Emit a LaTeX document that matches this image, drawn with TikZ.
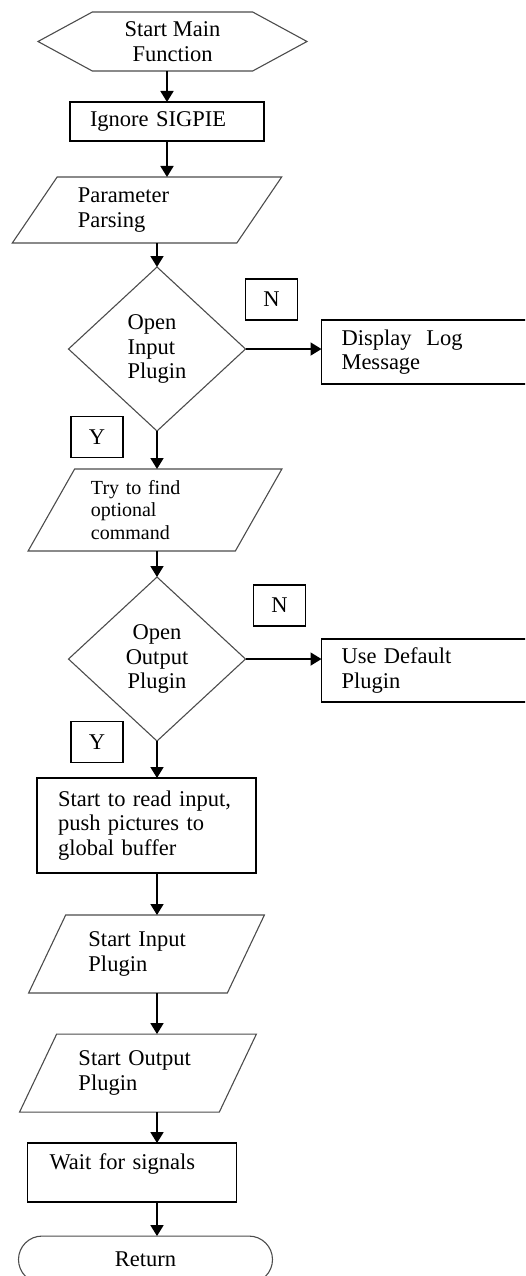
\documentclass[tikz,border=0pt]{standalone}
\usepackage{fontspec}
\setmainfont{Liberation Serif}
\usetikzlibrary{positioning}
\usetikzlibrary{arrows.meta}
\usetikzlibrary{shapes.geometric}
\usetikzlibrary{shapes.symbols}
\usetikzlibrary{shapes.misc}

\begin{document}
\begin{tikzpicture}[x=1pt,y=-1pt,>={Triangle[length=11pt,width=13pt]},
font=\fontsize{22.5}{24.5}\selectfont,inner sep=0pt,outer sep=0pt]
\tikzstyle{termbox}=[signal,signal to=west and east,signal pointer angle=57,
  draw=black!70,line width=1.1pt,minimum width=269pt,minimum height=59pt,align=center]
\tikzstyle{procbox}=[rectangle,draw,line width=1.2pt,align=left]
\tikzstyle{iobox}=[trapezium,trapezium stretches=true,draw=black!70,line width=1.1pt,align=left]
\tikzstyle{decbox}=[diamond,draw=black!70,line width=1.1pt,minimum width=177pt,minimum height=164pt]
\tikzstyle{tagbox}=[rectangle,draw,line width=1.2pt,minimum width=52pt,minimum height=41pt]
\tikzstyle{endbox}=[rounded rectangle,draw=black!70,line width=1.1pt,minimum width=254pt,minimum height=47pt]
\tikzstyle{flowline}=[->,line width=1.8pt]

\useasboundingbox (0,0) rectangle (525,1276);
\clip (0,0) rectangle (525,1276);

\node[termbox] (start) at (172.5,41.5) {Start Main\\Function};
\node[procbox,text width=154pt,minimum width=194pt,minimum height=39pt] (ign)
  [below=31pt of start,xshift=-5.5pt] {Ignore SIGPIE};
\node[iobox,trapezium left angle=52,trapezium right angle=128,minimum width=270pt,
  minimum height=66pt,text width=138pt] (parse) [below=36pt of ign,xshift=-20pt] {Parameter\\Parsing};

\node[decbox,align=left] (inplug) [below=24pt of parse,xshift=10pt] {Open\\Input\\Plugin};
\node[procbox,text width=175pt,minimum width=215pt,minimum height=64pt] (logmsg)
  [right=76pt of inplug,yshift=-3pt] {Display~~Log\\Message};
\node[tagbox] (n1) [above right=29pt and 0pt of inplug.east] {N};
\node[tagbox] (y1) [left=34pt of inplug.south,yshift=-6pt] {Y};

\node[iobox,trapezium left angle=58,trapezium right angle=122,minimum width=254pt,
  minimum height=82pt,text width=128pt,font=\fontsize{20}{22.5}\selectfont] (findcmd)
  [below=38pt of inplug,xshift=-2pt] {Try to find\\optional\\command};

\node[decbox,align=center] (outplug) [below=26pt of findcmd,xshift=2pt] {Open\\Output\\Plugin};
\node[procbox,text width=175pt,minimum width=215pt,minimum height=63pt] (defplug)
  [right=76pt of outplug,yshift=-11.5pt] {Use Default\\Plugin};
\node[tagbox] (n2) [above right=33pt and 8pt of outplug.east] {N};
\node[tagbox] (y2) [left=34pt of outplug.south,yshift=-1pt] {Y};

\node[procbox,text width=177pt,minimum width=219pt,minimum height=95pt] (readin)
  [below=37pt of outplug,xshift=-10.5pt] {Start to read input,\\push pictures to\\global buffer};
\node[iobox,trapezium left angle=59,trapezium right angle=121,minimum width=236pt,
  minimum height=78pt,text width=116pt] (startin) [below=42pt of readin] {Start Input\\Plugin};
\node[iobox,trapezium left angle=58.5,trapezium right angle=121.5,minimum width=237pt,
  minimum height=78pt,text width=119pt] (startout) [below=41pt of startin,xshift=-8.5pt] {Start Output\\Plugin};
\node[procbox,text width=165pt,minimum width=209pt,minimum height=59pt,text depth=22pt] (waitsig)
  [below=31pt of startout,xshift=-6pt] {Wait for signals};
\node[endbox] (ret) [below=34pt of waitsig,xshift=13.5pt] {Return};

% connectors
\draw[flowline] (start.south -| ign.north) -- (ign.north);
\draw[flowline] (ign.south) -- (ign.south |- parse.north);
\draw[flowline] (parse.south -| inplug.north) -- (inplug.north);
\draw[flowline] (inplug.east) -- (inplug.east -| logmsg.west);
\draw[flowline] (inplug.south) -- (inplug.south |- findcmd.north);
\draw[flowline] (findcmd.south -| outplug.north) -- (outplug.north);
\draw[flowline] (outplug.east) -- (outplug.east -| defplug.west);
\draw[flowline] (outplug.south) -- (outplug.south |- readin.north);
\draw[flowline] (readin.south -| outplug.south) -- (startin.north -| outplug.south);
\draw[flowline] (startin.south -| outplug.south) -- (startout.north -| outplug.south);
\draw[flowline] (startout.south -| outplug.south) -- (waitsig.north -| outplug.south);
\draw[flowline] (waitsig.south -| outplug.south) -- (ret.north -| outplug.south);
\end{tikzpicture}
\end{document}
